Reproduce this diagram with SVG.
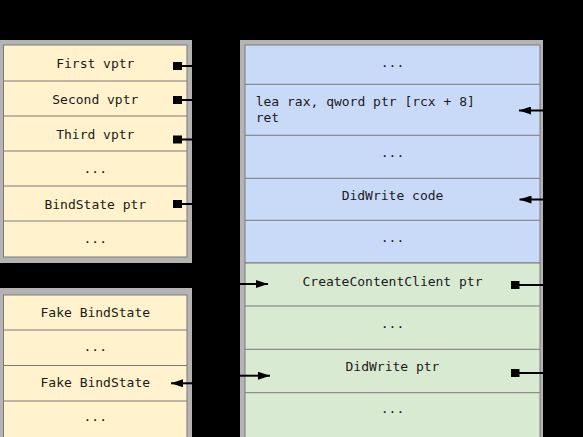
<svg xmlns="http://www.w3.org/2000/svg" width="583" height="437" viewBox="0 0 583 437">
<defs>
<style>
.frame{fill:#b4b4b4}
.cream{fill:#fff2cc;stroke:#7a7a7a;stroke-width:1}
.blue{fill:#c9daf8;stroke:#7a7a7a;stroke-width:1}
.green{fill:#d9ead3;stroke:#7a7a7a;stroke-width:1}
.sep{stroke:#7a7a7a;stroke-width:1}
.t{font-family:"DejaVu Sans Mono","Liberation Mono",monospace;font-size:13px;fill:#1a1a1a}
.c{text-anchor:middle}
.conn{stroke:#000;stroke-width:2;fill:none}
.sq{fill:#000}
</style>
<marker id="arrow" viewBox="0 0 12 8" refX="12" refY="4" markerWidth="12" markerHeight="8" markerUnits="userSpaceOnUse" orient="auto">
<path d="M0,0 L12,4 L0,8 Z" fill="#000"/>
</marker>
</defs>
<rect x="0" y="0" width="583" height="437" fill="#000"/>

<g id="objects">
<rect class="frame" x="0" y="40" width="192" height="223"/>
<rect class="cream" x="3.5" y="45" width="183.5" height="212"/>
<line class="sep" x1="3.5" y1="81" x2="187" y2="81"/>
<line class="sep" x1="3.5" y1="116" x2="187" y2="116"/>
<line class="sep" x1="3.5" y1="151" x2="187" y2="151"/>
<line class="sep" x1="3.5" y1="186" x2="187" y2="186"/>
<line class="sep" x1="3.5" y1="221" x2="187" y2="221"/>
<text class="t c" x="95.3" y="68">First vptr</text>
<text class="t c" x="95.3" y="103.5">Second vptr</text>
<text class="t c" x="95.3" y="138.5">Third vptr</text>
<text class="t c" x="95.3" y="172.5">...</text>
<text class="t c" x="95.3" y="208.5">BindState ptr</text>
<text class="t c" x="95.3" y="242.5">...</text>
</g>

<g id="fake">
<rect class="frame" x="0" y="288" width="192" height="150"/>
<rect class="cream" x="3.5" y="295" width="183.5" height="145"/>
<line class="sep" x1="3.5" y1="330" x2="187" y2="330"/>
<line class="sep" x1="3.5" y1="365.5" x2="187" y2="365.5"/>
<line class="sep" x1="3.5" y1="401" x2="187" y2="401"/>
<text class="t c" x="95.3" y="317">Fake BindState</text>
<text class="t c" x="95.3" y="350.7">...</text>
<text class="t c" x="95.3" y="387">Fake BindState</text>
<text class="t c" x="95.3" y="420.7">...</text>
</g>

<g id="memory">
<rect class="frame" x="240" y="40" width="303" height="400"/>
<rect class="blue" x="245" y="45" width="295" height="218"/>
<rect class="green" x="245" y="263" width="295" height="177"/>
<line class="sep" x1="245" y1="84.3" x2="540" y2="84.3"/>
<line class="sep" x1="245" y1="135.3" x2="540" y2="135.3"/>
<line class="sep" x1="245" y1="178.3" x2="540" y2="178.3"/>
<line class="sep" x1="245" y1="220.3" x2="540" y2="220.3"/>
<line class="sep" x1="245" y1="306" x2="540" y2="306"/>
<line class="sep" x1="245" y1="349.3" x2="540" y2="349.3"/>
<line class="sep" x1="245" y1="392.7" x2="540" y2="392.7"/>
<text class="t c" x="392.5" y="66.5">...</text>
<text class="t" x="255.7" y="106">lea rax, qword ptr [rcx + 8]</text>
<text class="t" x="255.7" y="122">ret</text>
<text class="t c" x="392.5" y="156.8">...</text>
<text class="t c" x="392.5" y="200">DidWrite code</text>
<text class="t c" x="392.5" y="241.5">...</text>
<text class="t c" x="392.5" y="286">CreateContentClient ptr</text>
<text class="t c" x="392.5" y="328">...</text>
<text class="t c" x="392.5" y="371">DidWrite ptr</text>
<text class="t c" x="392.5" y="413">...</text>
</g>

<g id="connectors">
<rect class="sq" x="173" y="62" width="9" height="8"/>
<line class="conn" x1="182" y1="66" x2="192" y2="66"/>
<rect class="sq" x="173" y="96" width="9" height="8"/>
<line class="conn" x1="182" y1="100" x2="192" y2="100"/>
<rect class="sq" x="173" y="135.5" width="9" height="8"/>
<line class="conn" x1="182" y1="139.5" x2="192" y2="139.5"/>
<rect class="sq" x="173" y="200" width="9" height="8"/>
<line class="conn" x1="182" y1="204" x2="192" y2="204"/>
<line class="conn" x1="192" y1="383.3" x2="171" y2="383.3" marker-end="url(#arrow)"/>
<line class="conn" x1="543" y1="110.5" x2="519" y2="110.5" marker-end="url(#arrow)"/>
<line class="conn" x1="543" y1="199.5" x2="519.5" y2="199.5" marker-end="url(#arrow)"/>
<rect class="sq" x="511" y="281" width="8.5" height="8"/>
<line class="conn" x1="519" y1="285" x2="543" y2="285"/>
<rect class="sq" x="511" y="369" width="8.5" height="8"/>
<line class="conn" x1="519" y1="373" x2="543" y2="373"/>
<line class="conn" x1="240" y1="284" x2="268" y2="284" marker-end="url(#arrow)"/>
<line class="conn" x1="240" y1="375.7" x2="270" y2="375.7" marker-end="url(#arrow)"/>
</g>
</svg>
